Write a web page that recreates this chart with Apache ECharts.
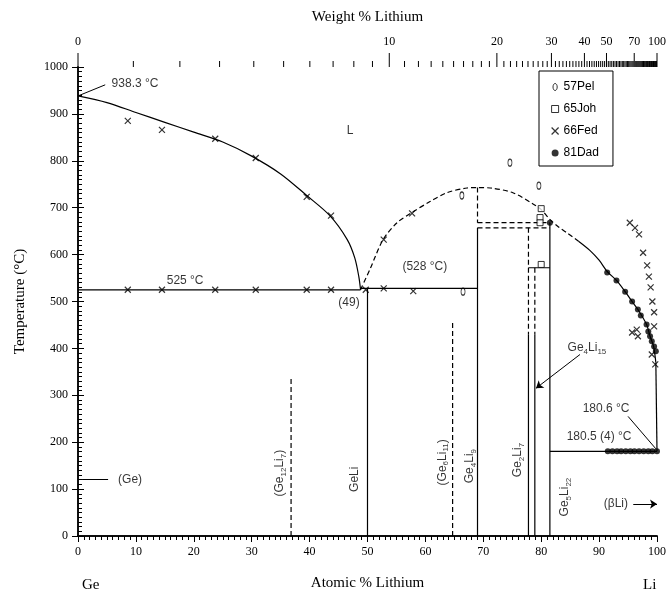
<!DOCTYPE html>
<html><head><meta charset="utf-8">
<script src="https://cdn.jsdelivr.net/npm/echarts@6/dist/echarts.min.js"></script>
<style>html,body{margin:0;padding:0;background:#fff}#c{width:669px;height:596px}</style>
</head><body><div id="c"></div>
<script>
// ---- axis tick labels ----
const atomicTickLabels = [0,10,20,30,40,50,60,70,80,90,100];
const tempTickLabels = [0,100,200,300,400,500,600,700,800,900,1000];
const weightTickLabels = [0,10,20,30,40,50,70,100];
const weightMinorTicks = [];
for (let w = 0; w <= 100; w++) weightMinorTicks.push(w);

// ---- phase boundaries (at.% Li, °C) ----
const liquidusGe = [[0,938.3],[5,924],[10,903],[15,882],[20,861],[25,840],[30,810],[35,772],[39.5,726],[43.5,683],[46.5,632],[47.8,593],[48.5,553],[48.8,525]];
const liquidusDomeDashed = [[48.8,525],[50.4,568],[52.7,632],[55.1,668],[57.7,690],[60.8,713],[63.7,732],[67.2,742],[69,743],[71.2,742],[75.1,732],[78.6,708],[80.0,696],[81.5,675],[83.0,659],[84.6,645],[86.5,628]];
const liquidusLi = [[86.5,628],[88.4,609],[90,588],[91.4,564],[93.0,545],[94.5,521],[95.7,500],[96.7,483],[98.2,451],[98.8,426],[99.4,405],[99.8,370]];
const liquidusLiEnd = [[99.8,370],[100,180.6]];
const eutectic525 = [[0,525],[48.8,525]];
const eutectic528 = [[48.8,528],[69.0,528]];
const lineGeLi = [[50,0],[50,528]];
const lineGe12Li7 = [[36.8,0],[36.8,338]];
const lineGe6Li11 = [[64.7,0],[64.7,456]];
const lineGe4Li9 = [[69.0,0],[69.0,657]];
const domeDrop = [[69.0,743],[69.0,668]];
const peritectic668 = [[69.0,668],[81.5,668]];
const peritectic657 = [[69.0,657],[81.5,657]];
const ge2Li7Dashed = [[77.8,657],[77.8,430]];
const ge2Li7Solid = [[77.8,430],[77.8,0]];
const ge4Li15Dashed = [[78.9,572],[78.9,430]];
const ge4Li15Solid = [[78.9,430],[78.9,0]];
const line572 = [[77.8,572],[81.5,572]];
const lineGe5Li22 = [[81.5,0],[81.5,668]];
const eutectic180 = [[81.5,180.5],[100,180.5]];

// ---- experimental points ----
const pel57 = [[66.3,726],[74.6,796],[79.6,747],[66.5,521]];
const joh65 = [[80.0,698],[79.8,679],[79.8,668],[80.0,579]];
const fed66 = [[8.6,885],[14.5,866],[23.7,847],[30.7,806],[39.5,723],[43.7,683],
  [8.6,525],[14.5,525],[23.7,525],[30.7,525],[39.5,525],[43.7,525],
  [49.7,525],[52.8,528],[57.9,522],[52.8,632],[57.7,688],
  [95.3,668],[96.2,657],[96.9,643],[97.6,604],[98.3,577],[98.6,553],[98.9,530],[99.2,500],[99.5,477],
  [95.7,434],[96.5,440],[96.7,426],[99.1,387],[99.7,366],[99.5,447]];
const dad81 = [[81.5,668],[91.4,562],[93.0,545],[94.5,521],[95.7,500],[96.7,483],[97.2,470],[98.2,451],[98.5,436],[98.8,426],[99.1,415],[99.5,404],[99.8,394],
  [91.5,180.5],[92.3,180.5],[93.1,180.5],[93.8,180.5],[94.6,180.5],[95.4,180.5],[96.1,180.5],[96.9,180.5],[97.7,180.5],[98.5,180.5],[99.2,180.5],[100,180.5]];

// weight% <-> atomic% conversion for the top scale
const M_LI = 6.941, M_GE = 72.63;
const wtToAt = w => { const a = w / M_LI, b = (100 - w) / M_GE; return a / (a + b) * 100; };
const atToWt = x => { const a = x * M_LI, b = (100 - x) * M_GE; return a / (a + b) * 100; };

const serif = 'Liberation Serif';
const sans = 'Liberation Sans';
const BLACK = '#000';

function lineSeries(data, dashed, smooth) {
  return {type:'line', data, xAxisIndex:0, yAxisIndex:0, symbol:'none', smooth: smooth ? 0.3 : false,
    silent:true, lineStyle:{color:BLACK, width:1.2, type: dashed ? [5,3] : 'solid'}, z:3};
}

const subRich = {
  n:{fontFamily:sans, fontSize:12, color:BLACK, lineHeight:16},
  s:{fontFamily:sans, fontSize:8, color:BLACK, lineHeight:16, verticalAlign:'bottom', padding:[6,0,0,0]}
};
function ann(x, y, text, rotate) {
  return {value:[x,y], label:{show:true, position:'inside', formatter:text, rotate: rotate || 0,
    rich: subRich, fontFamily:sans, fontSize:12, color:BLACK}};
}

const annotations = [
  ann(9.85, 964, '{n|938.3 °C}'),
  ann(47.0, 864, '{n|L}'),
  ann(18.5, 545, '{n|525 °C}'),
  ann(59.9, 574, '{n|(528 °C)}'),
  ann(46.8, 498, '{n|(49)}'),
  ann(9.0, 121, '{n|(Ge)}'),
  ann(91.2, 272, '{n|180.6 °C}'),
  ann(90.0, 211, '{n|180.5 (4) °C}'),
  ann(92.9, 68, '{n|(βLi)}'),
  ann(87.9, 402, '{n|Ge}{s|4}{n|Li}{s|15}'),
  ann(34.9, 134, '{n|(Ge}{s|12}{n|Li}{s|7}{n|)}', 90),
  ann(47.8, 121, '{n|GeLi}', 90),
  ann(62.9, 157, '{n|(Ge}{s|6}{n|Li}{s|11}{n|)}', 90),
  ann(67.7, 149, '{n|Ge}{s|4}{n|Li}{s|9}', 90),
  ann(76.0, 162, '{n|Ge}{s|2}{n|Li}{s|7}', 90),
  ann(84.1, 83, '{n|Ge}{s|5}{n|Li}{s|22}', 90)
];

const ellipsePath = 'path://M3,0 C4.7,0 6,2.2 6,5 C6,7.8 4.7,10 3,10 C1.3,10 0,7.8 0,5 C0,2.2 1.3,0 3,0 Z';
const crossPath = 'path://M0,0 L10,10 M10,0 L0,10';

const chart = echarts.init(document.getElementById('c'), null, {renderer:'canvas'});
const option = {
  animation:false,
  backgroundColor:'#fff',
  grid:{left:78, right:12, top:67, bottom:59, containLabel:false},
  legend:{
    orient:'vertical', left:539, top:71, itemWidth:7, itemHeight:7, itemGap:8,
    padding:[9,14,6,12], borderColor:BLACK, borderWidth:1, backgroundColor:'#fff',
    textStyle:{fontFamily:sans, fontSize:12, color:BLACK, lineHeight:14},
    data:[
      {name:'57Pel', icon:ellipsePath, itemStyle:{color:'rgba(0,0,0,0)', borderColor:BLACK, borderWidth:1}},
      {name:'65Joh', icon:'rect', itemStyle:{color:'rgba(0,0,0,0)', borderColor:BLACK, borderWidth:1}},
      {name:'66Fed', icon:crossPath, itemStyle:{color:'rgba(0,0,0,0)', borderColor:BLACK, borderWidth:1.2}},
      {name:'81Dad', icon:'circle', itemStyle:{color:BLACK}}
    ]
  },
  xAxis:[
    {type:'value', position:'bottom', min:0, max:100, interval:10,
     name:'Atomic % Lithium', nameLocation:'middle', nameGap:40,
     nameTextStyle:{fontFamily:serif, fontSize:15, color:BLACK},
     axisLine:{show:true, lineStyle:{color:BLACK, width:1.5}},
     axisTick:{show:true, inside:false, length:6, lineStyle:{color:BLACK}},
     minorTick:{show:true, splitNumber:10, length:4, lineStyle:{color:BLACK}},
     axisLabel:{show:true, margin:10, fontFamily:serif, fontSize:12, color:BLACK},
     splitLine:{show:false}},
    {type:'value', position:'top', min:0, max:100,
     name:'Weight % Lithium', nameLocation:'middle', nameGap:42,
     nameTextStyle:{fontFamily:serif, fontSize:15, color:BLACK},
     axisLine:{show:true, lineStyle:{color:BLACK, width:1.5}},
     axisTick:{show:false},
     axisLabel:{show:true, margin:19, fontFamily:serif, fontSize:12, color:BLACK,
       customValues: weightTickLabels.map(wtToAt), formatter: v => String(Math.round(atToWt(v)))},
     splitLine:{show:false}}
  ],
  yAxis:[
    {type:'value', position:'left', min:0, max:1000, interval:100,
     name:'Temperature (°C)', nameLocation:'middle', nameGap:50, nameRotate:90,
     nameTextStyle:{fontFamily:serif, fontSize:15, color:BLACK},
     axisLine:{show:true, lineStyle:{color:BLACK, width:1.5}},
     axisTick:{show:true, inside:false, length:6, lineStyle:{color:BLACK}},
     axisLabel:{show:true, margin:10, fontFamily:serif, fontSize:12, color:BLACK, formatter: v => String(v)},
     splitLine:{show:false}},
    {type:'value', position:'right', min:0, max:1000, interval:100,
     axisLine:{show:true, lineStyle:{color:BLACK, width:1.5}},
     axisTick:{show:true, inside:false, length:6, lineStyle:{color:BLACK}},
     minorTick:{show:true, splitNumber:10, length:4, lineStyle:{color:BLACK}},
     axisLabel:{show:false}, splitLine:{show:false}},
    {type:'value', position:'left', min:0, max:1000, interval:100,
     axisLine:{show:false},
     axisTick:{show:true, inside:true, length:4, lineStyle:{color:BLACK}},
     minorTick:{show:true, splitNumber:10, length:4, lineStyle:{color:BLACK}},
     axisLabel:{show:false}, splitLine:{show:false}}
  ],
  series:[
    lineSeries(liquidusGe, false, true),
    lineSeries(liquidusDomeDashed, true, true),
    lineSeries(liquidusLi, false, true),
    lineSeries(liquidusLiEnd, false, false),
    Object.assign(lineSeries(eutectic525, false, false), {
      markLine:{silent:true, symbol:['none','none'], label:{show:false}, lineStyle:{color:BLACK, width:1, type:'solid'},
        data:[
          [{coord:[0,938.3]},{coord:[4.7,962]}],
          [{coord:[0.7,121]},{coord:[5.2,121]}],
          [{coord:[95.0,255]},{coord:[99.8,186]}]
        ]}
    }),
    Object.assign(lineSeries(eutectic528, false, false), {
      markLine:{silent:true, symbol:['none','arrow'], symbolSize:7, label:{show:false}, lineStyle:{color:BLACK, width:1, type:'solid'},
        data:[
          [{coord:[86.7,387]},{coord:[79.1,315]}],
          [{coord:[95.9,68]},{coord:[100,68]}]
        ]}
    }),
    lineSeries(lineGeLi, false, false),
    lineSeries(lineGe12Li7, true, false),
    lineSeries(lineGe6Li11, true, false),
    lineSeries(lineGe4Li9, false, false),
    lineSeries(domeDrop, true, false),
    lineSeries(peritectic668, true, false),
    lineSeries(peritectic657, true, false),
    lineSeries(ge2Li7Dashed, true, false),
    lineSeries(ge2Li7Solid, false, false),
    lineSeries(ge4Li15Dashed, true, false),
    lineSeries(ge4Li15Solid, false, false),
    lineSeries(line572, false, false),
    lineSeries(lineGe5Li22, false, false),
    lineSeries(eutectic180, false, false),
    {name:'57Pel', type:'scatter', data:pel57, symbol:ellipsePath, symbolSize:[4,7], symbolKeepAspect:false,
     itemStyle:{color:'rgba(0,0,0,0)', borderColor:BLACK, borderWidth:1}, z:5},
    {name:'65Joh', type:'scatter', data:joh65, symbol:'rect', symbolSize:6,
     itemStyle:{color:'#fff', borderColor:BLACK, borderWidth:1}, z:5},
    {name:'66Fed', type:'scatter', data:fed66, symbol:crossPath, symbolSize:6,
     itemStyle:{color:'rgba(0,0,0,0)', borderColor:BLACK, borderWidth:1.2}, z:5},
    {name:'81Dad', type:'scatter', data:dad81, symbol:'circle', symbolSize:6,
     itemStyle:{color:BLACK}, z:5},
    {type:'scatter', data:annotations, symbolSize:1, itemStyle:{color:'rgba(0,0,0,0)'}, silent:true, z:6},
    // weight-% ticks of the top scale, placed through the x scale at the top of the y range
    {type:'custom', xAxisIndex:0, yAxisIndex:0, clip:false, silent:true, z:4,
     data: weightMinorTicks.map(w => [wtToAt(w), w]),
     renderItem: (params, api) => {
       const p = api.coord([api.value(0), 1000]);
       const major = weightTickLabels.indexOf(api.value(1)) >= 0;
       const len = major ? 14 : 6;
       return {type:'line', shape:{x1:p[0], y1:p[1], x2:p[0], y2:p[1] - len},
               style:{stroke:BLACK, lineWidth:1}};
     }}
  ],
  graphic:[
    {type:'text', left:82, top:578, style:{text:'Ge', fontFamily:serif, fontSize:15, fill:BLACK}},
    {type:'text', left:643, top:578, style:{text:'Li', fontFamily:serif, fontSize:15, fill:BLACK}}
  ]
};
chart.setOption(option);
</script>
</body></html>
